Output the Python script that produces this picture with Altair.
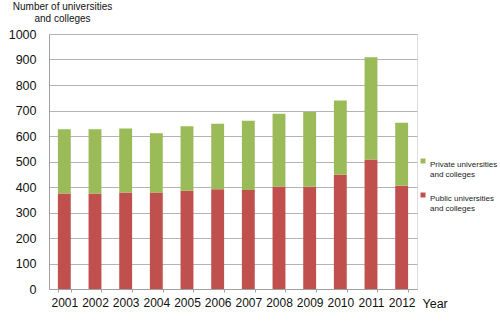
import altair as alt
import pandas as pd

years = ["2001", "2002", "2003", "2004", "2005", "2006", "2007", "2008", "2009", "2010", "2011", "2012"]
public = [375, 375, 378, 378, 385, 391, 388, 402, 401, 448, 508, 405]
total = [626, 626, 629, 611, 638, 648, 660, 687, 694, 739, 909, 652]
private = [t - p for t, p in zip(total, public)]

series_names = ["Private universities\nand colleges", "Public universities\nand colleges"]
colors = ["#9BBB59", "#C0504D"]

rows = []
for y, pu, pr in zip(years, public, private):
    rows.append({"year": y, "series": series_names[1], "value": pu, "ord": 0})
    rows.append({"year": y, "series": series_names[0], "value": pr, "ord": 1})
df = pd.DataFrame(rows)

FONT = "Liberation Sans"

chart = alt.Chart(df).mark_bar().encode(
    x=alt.X("year:N", sort=years,
            scale=alt.Scale(paddingInner=0.58, paddingOuter=0.29),
            axis=alt.Axis(title="Year", labelAngle=0, labelFontSize=12, labelFont=FONT,
                          labelColor="#111111", tickSize=3, tickColor="#a0a0a0",
                          tickBand="extent", domainColor="#a0a0a0", labelPadding=5,
                          titleFontSize=12.5, titleFont=FONT, titleFontWeight="normal",
                          titleColor="#111111", titleAlign="left", titleBaseline="middle",
                          titleX=373, titleY=14, grid=False)),
    y=alt.Y("value:Q", stack="zero",
            scale=alt.Scale(domain=[0, 1000], nice=False),
            axis=alt.Axis(values=list(range(0, 1001, 100)), format="d",
                          title=["Number of universities", "and colleges"],
                          titleAngle=0, titleAlign="center", titleBaseline="top",
                          titleX=13, titleY=-33, titleFontSize=10, titleFont=FONT,
                          titleFontWeight="normal", titleColor="#111111", titleLineHeight=12,
                          labelFontSize=12.5, labelFont=FONT, labelColor="#111111",
                          tickSize=0, labelPadding=13, domainColor="#a0a0a0",
                          gridColor="#b4b4b4", gridWidth=1)),
    color=alt.Color("series:N", scale=alt.Scale(domain=series_names, range=colors),
                    legend=alt.Legend(title=None, orient="none", legendX=370, legendY=123,
                                      symbolType="square", symbolSize=25, symbolStrokeWidth=0,
                                      labelFont=FONT, labelFontSize=8,
                                      labelColor="#222222", labelOffset=3, rowPadding=12,
                                      labelExpr="split(datum.label, '\\n')",
                                      labelBaseline="top", labelLimit=200)),
    order=alt.Order("ord:Q")
).properties(
    width=368, height=255,
    autosize=alt.AutoSizeParams(type="none"),
    padding={"left": 49, "top": 34, "right": 83, "bottom": 37}
).configure_view(stroke=None).configure(background="white")

chart.save("out.html", embed_options={"renderer": "svg", "actions": False})
